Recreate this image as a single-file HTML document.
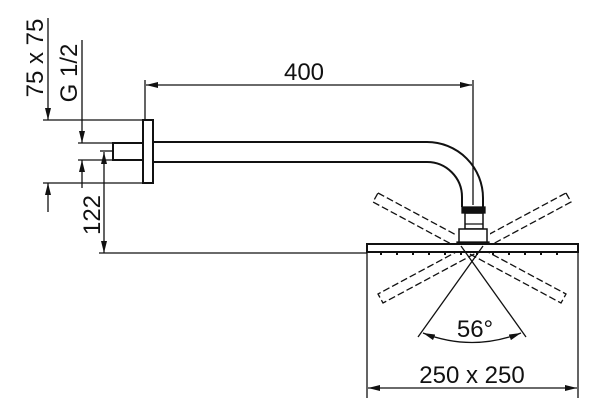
<!DOCTYPE html>
<html><head><style>body{margin:0;background:#fff}svg{display:block}text{font-family:"Liberation Sans",sans-serif;fill:#111}</style></head>
<body><svg width="600" height="414" viewBox="0 0 600 414" xmlns="http://www.w3.org/2000/svg">
<defs><marker id="a" viewBox="0 0 12 6" refX="12" refY="3" markerWidth="12" markerHeight="6" orient="auto-start-reverse" markerUnits="userSpaceOnUse"><path d="M0,0L12,3L0,6z" fill="#111"/></marker></defs>
<g stroke="#111" fill="none" stroke-width="1.3">
<g stroke-dasharray="7,3">
<polygon points="378,193 566,294 561,303 373,202"/>
<polygon points="566,193 571,202 383,303 378,294"/>
</g>
<rect x="456" y="205" width="34" height="40" fill="#fff" stroke="none"/>
<rect x="143" y="120" width="10" height="63" stroke-width="2"/>
<rect x="113" y="143" width="30" height="17" stroke-width="2"/>
<path d="M153,142 H427 A56,56 0 0 1 483,198 V207" stroke-width="2"/>
<path d="M153,162 H427 A35,35 0 0 1 462,197 V207" stroke-width="2"/>
<rect x="462" y="207" width="23" height="6" fill="#111"/>
<rect x="465" y="213" width="18" height="16" stroke-width="1.5"/>
<line x1="465" y1="224" x2="483" y2="224"/>
<rect x="459" y="229" width="28" height="14" stroke-width="1.5" fill="#fff"/>
<rect x="457" y="242" width="32" height="3" fill="#111"/>
<rect x="367" y="244" width="211" height="8" stroke-width="2" fill="#fff"/>
<g stroke-dasharray="2,14" stroke-width="2"><line x1="380" y1="254" x2="570" y2="254"/></g>
<line x1="483" y1="246" x2="418" y2="337"/>
<line x1="461" y1="246" x2="526" y2="337"/>
<path d="M423,333 Q472,352 521,333" marker-start="url(#a)" marker-end="url(#a)"/>
<line x1="145" y1="80" x2="145" y2="120"/>
<line x1="473" y1="80" x2="473" y2="205"/>
<line x1="146" y1="85" x2="472" y2="85" marker-start="url(#a)" marker-end="url(#a)"/>
<line x1="43" y1="120" x2="143" y2="120"/>
<line x1="43" y1="183" x2="143" y2="183"/>
<line x1="48" y1="18" x2="48" y2="120" marker-end="url(#a)"/>
<line x1="48" y1="212" x2="48" y2="183" marker-end="url(#a)"/>
<line x1="78" y1="143" x2="113" y2="143"/>
<line x1="78" y1="160" x2="113" y2="160"/>
<line x1="82" y1="40" x2="82" y2="143" marker-end="url(#a)"/>
<line x1="82" y1="188" x2="82" y2="160" marker-end="url(#a)"/>
<line x1="100" y1="151" x2="113" y2="151"/>
<line x1="104" y1="152" x2="104" y2="253" marker-start="url(#a)" marker-end="url(#a)"/>
<line x1="99" y1="253" x2="367" y2="253"/>
<line x1="367" y1="253" x2="367" y2="398"/>
<line x1="578" y1="253" x2="578" y2="398"/>
<line x1="368" y1="388" x2="577" y2="388" marker-start="url(#a)" marker-end="url(#a)"/>
</g>
<text x="304" y="80" font-size="24" text-anchor="middle">400</text>
<text x="475" y="337" font-size="24" text-anchor="middle">56°</text>
<text x="472" y="383" font-size="24" text-anchor="middle">250 x 250</text>
<text transform="translate(43,58) rotate(-90)" font-size="24" text-anchor="middle">75 x 75</text>
<text transform="translate(77,73) rotate(-90)" font-size="24" text-anchor="middle">G 1/2</text>
<text transform="translate(100,215) rotate(-90)" font-size="24" text-anchor="middle">122</text>
</svg></body></html>
